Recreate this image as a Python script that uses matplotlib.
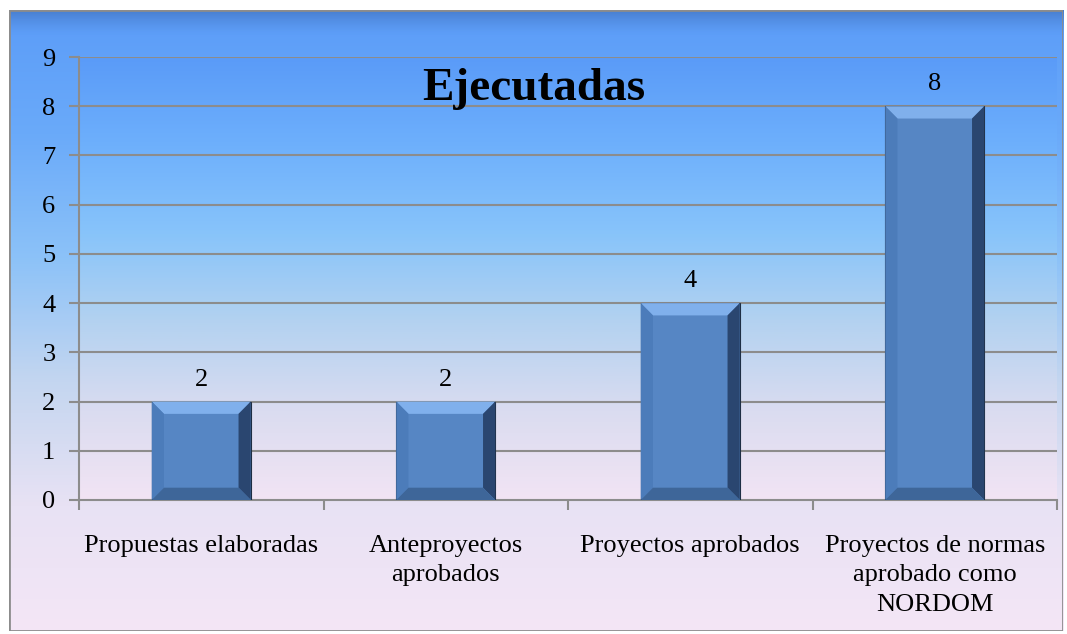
import numpy as np
import matplotlib.pyplot as plt
from matplotlib.colors import LinearSegmentedColormap
from matplotlib.patches import Polygon, Rectangle

categories = ["Propuestas elaboradas", "Anteproyectos\naprobados",
              "Proyectos aprobados", "Proyectos de normas\naprobado como\nNORDOM"]
values = [2, 2, 4, 8]
yticks = list(range(0, 10))

plt.rcParams['font.family'] = ['Liberation Serif', 'DejaVu Serif']

fig = plt.figure(figsize=(10.67, 6.34), dpi=100)
fig.patch.set_facecolor('white')

# background gradient (blue on top, pale pink at the bottom)
bg_cmap = LinearSegmentedColormap.from_list(
    'bg', ['#5b9cf8', '#6aaafa', '#8cc2f8', '#c4d6f0', '#e8e2f4', '#f4e6f6'])
bg = fig.add_axes([0.008, 0.005, 0.988, 0.98], zorder=0)
bg.imshow(np.linspace(0, 1, 256).reshape(-1, 1), aspect='auto', cmap=bg_cmap,
          extent=[0, 1, 0, 1], origin='upper')
# thin darker shade along the top edge
bg.imshow(np.linspace(0.45, 0, 40).reshape(-1, 1) ** 1.5, aspect='auto',
          cmap=LinearSegmentedColormap.from_list('sh', [(0.1, 0.2, 0.4, 0), (0.1, 0.2, 0.4, 1)]),
          vmin=0, vmax=1, extent=[0, 1, 0.955, 1], origin='upper')
bg.set_xlim(0, 1)
bg.set_ylim(0, 1)
bg.set_axis_off()
bg.add_patch(Rectangle((0, 0), 1, 1, transform=bg.transAxes, fill=False,
                       edgecolor='#8c8c8c', linewidth=2))

ax = fig.add_axes([79 / 1067, 1 - 500 / 634, (1057 - 79) / 1067, (500 - 57) / 634], zorder=1)
ax.set_facecolor('none')
plot_cmap = LinearSegmentedColormap.from_list(
    'pa', ['#5a9bf8', '#6eb0fc', '#88c4fa', '#b4d2f0', '#dadcf0', '#f2e4f4'])
ax.imshow(np.linspace(0, 1, 256).reshape(-1, 1), aspect='auto', cmap=plot_cmap,
          extent=[-0.5, len(values) - 0.5, 0, 9], origin='upper', zorder=0)

x = np.arange(len(values))
ax.set_xlim(-0.5, len(values) - 0.5)
ax.set_ylim(0, 9)
ax.set_yticks(yticks)
for t in yticks[1:]:
    ax.axhline(t, color='#8c8c8c', linewidth=1.5, zorder=1)

bw = 0.405
bars = ax.bar(x, values, width=bw, color='#5686c4', edgecolor='#1e2e44',
              linewidth=0.8, zorder=3)

# bevel effect on each bar
bx, by = 0.05, 0.25
for b in bars:
    x0, x1 = b.get_x(), b.get_x() + b.get_width()
    h = b.get_height()
    ax.add_patch(Polygon([[x0, h], [x1, h], [x1 - bx, h - by], [x0 + bx, h - by]],
                         closed=True, color='#80b0ec', zorder=4, lw=0))
    ax.add_patch(Polygon([[x1, h], [x1, 0], [x1 - bx, by], [x1 - bx, h - by]],
                         closed=True, color='#2a4670', zorder=4, lw=0))
    ax.add_patch(Polygon([[x0, h], [x0, 0], [x0 + bx, by], [x0 + bx, h - by]],
                         closed=True, color='#4c7cba', zorder=4, lw=0))
    ax.add_patch(Polygon([[x0, 0], [x1, 0], [x1 - bx, by], [x0 + bx, by]],
                         closed=True, color='#3e6699', zorder=4, lw=0))
    ax.text(b.get_x() + b.get_width() / 2, h + 0.22, str(int(h)), ha='center',
            va='bottom', fontsize=19, color='black', zorder=5)

ax.set_xticks(np.arange(-0.5, len(values)), minor=False)
ax.set_xticklabels([])
ax.set_xticks(x, minor=True)
ax.set_xticklabels(categories, minor=True, fontsize=19)
for lbl in ax.get_xticklabels(minor=True):
    lbl.set_linespacing(1.45)
ax.tick_params(axis='x', which='minor', length=0, pad=25)
ax.tick_params(axis='x', which='major', length=7, color='#8c8c8c', width=1.5)
ax.tick_params(axis='y', length=7, color='#8c8c8c', width=1.5, labelsize=19, pad=10)

for s in ['top', 'right']:
    ax.spines[s].set_visible(False)
for s in ['left', 'bottom']:
    ax.spines[s].set_color('#8c8c8c')
    ax.spines[s].set_linewidth(1.5)

ax.text(1.36, 8.35, 'Ejecutadas', ha='center', va='center', fontsize=34,
        fontweight='bold', color='black', zorder=5)

fig.savefig('out.png', dpi=100)
